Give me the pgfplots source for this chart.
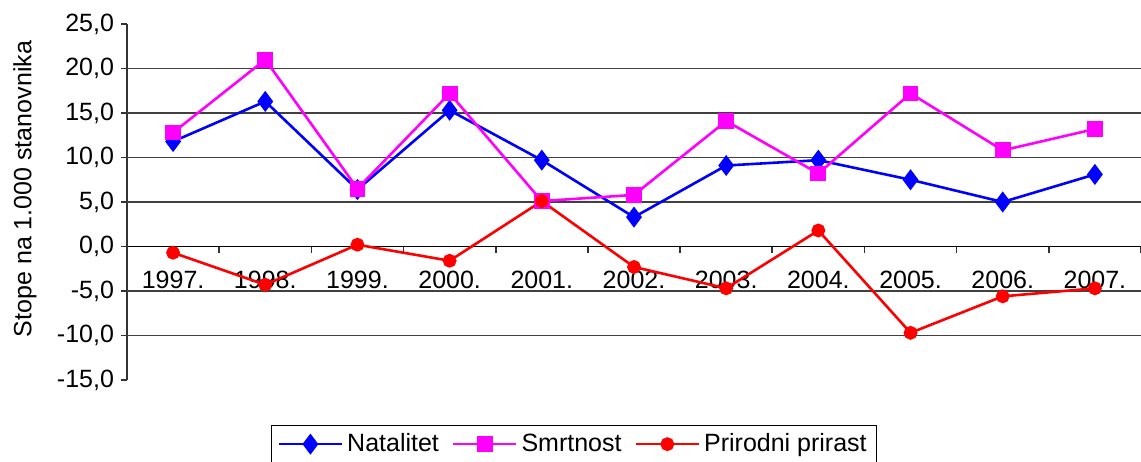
\documentclass[border=0pt]{standalone}
\usepackage{fontspec}
\setmainfont{Liberation Sans}
\usepackage{pgfplots}
\usepackage{pgfplotstable}
\pgfplotsset{compat=1.18}
\usetikzlibrary{calc}

\definecolor{natblue}{RGB}{0,0,255}
\definecolor{smrtmag}{RGB}{255,0,255}
\definecolor{prired}{RGB}{255,0,0}

% stope na 1.000 stanovnika, 1997.-2007. (x = 0..10)
\pgfplotstableread{
x  nat   smrt  prir
0  11.8  12.8  -0.7
1  16.3  21.0  -4.3
2  6.4   6.5   0.2
3  15.3  17.2  -1.6
4  9.7   5.1   5.1
5  3.3   5.8   -2.3
6  9.1   14.1  -4.7
7  9.7   8.2   1.8
8  7.5   17.2  -9.7
9  5.0   10.8  -5.6
10 8.1   13.2  -4.7
}\stope

\begin{document}
\begin{tikzpicture}
  \begin{axis}[
    name=ax,
    scale only axis,
    width=507pt, height=178pt,
    xmin=-0.5, xmax=10.5,
    ymin=-15, ymax=25,
    axis x line=middle,
    axis y line=left,
    hide obscured x ticks=false,
    x axis line style={-, black, line width=0.8pt},
    y axis line style={-, black!80, line width=0.8pt},
    tick style={black!80, line width=0.8pt},
    tick align=outside,
    major tick length=3pt,
    xtick={-0.5,0.5,...,10.5},
    x tick label as interval,
    xticklabels={1997.,1998.,1999.,2000.,2001.,2002.,2003.,2004.,2005.,2006.,2007.},
    xticklabel style={yshift=-5.5pt},
    ytick={-15,-10,...,25},
    extra y ticks={-10,-5,5,10,15,20},
    extra y tick labels={},
    extra y tick style={grid=major, grid style={black!75, line width=0.8pt}},
    yticklabel style={/pgf/number format/.cd, fixed, fixed zerofill,
      precision=1, use comma, assume math mode=true},
    font=\fontsize{12.5}{15}\selectfont,
    ylabel={Stope na 1.000 stanovnika},
    every axis y label/.style={at={(axis description cs:0,0.5)},
      xshift=-51pt, yshift=6.5pt, rotate=90, anchor=center},
    clip=false,
    legend columns=3,
    legend style={at={(axis description cs:0.441,0)}, anchor=north,
      yshift=-22.5pt, draw=black, line width=0.6pt,
      font=\fontsize{12.5}{15}\selectfont,
      /tikz/every even column/.append style={column sep=4.5pt}},
    legend image code/.code={%
      \draw[mark repeat=2, mark phase=2]
        plot coordinates {(0pt,0pt) (15.75pt,0pt) (31.5pt,0pt)};},
  ]
    \addplot[natblue, line width=1.3pt, mark=diamond*,
      mark size=4.2pt] table[x=x, y=nat] {\stope};
    \addlegendentry{Natalitet}
    \addplot[smrtmag, line width=1.3pt, mark=square*,
      mark size=3.3pt] table[x=x, y=smrt] {\stope};
    \addlegendentry{Smrtnost}
    \addplot[prired, line width=1.3pt, mark=*,
      mark size=2.8pt] table[x=x, y=prir] {\stope};
    \addlegendentry{Prirodni prirast}
  \end{axis}
  \pgfresetboundingbox
  \path[use as bounding box] ($(ax.south west)+(-63.5pt,-40.5pt)$)
    rectangle ($(ax.north east)+(0pt,12pt)$);
\end{tikzpicture}
\end{document}
